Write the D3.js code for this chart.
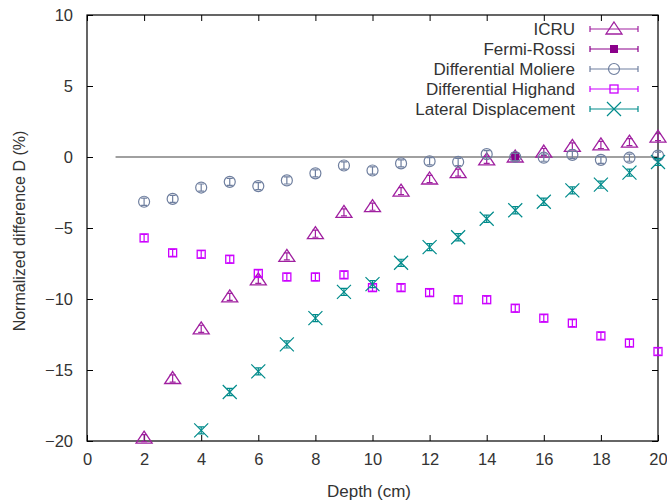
<!DOCTYPE html>
<html lang="en">

<head>
  <meta charset="utf-8">
  <title>Normalized difference D</title>
  <script src="https://d3js.org/d3.v7.min.js"></script>
  <style>
    body { margin: 0; background: #fff; }
    text { font-family: "Liberation Sans", Arial, sans-serif; fill: #333; }
  </style>
</head>

<body>
  <script>
    // depths (cm)
    var depth = [2, 3, 4, 5, 6, 7, 8, 9, 10, 11, 12, 13, 14, 15, 16, 17, 18, 19, 20];
    var icru = [-19.8, -15.6, -12.1, -9.85, -8.65, -7.0, -5.4, -3.9, -3.5, -2.4, -1.55, -1.1, -0.2, 0.0, 0.35, 0.75, 0.85, 1.05, 1.4];
    var fermiDepth = [15];
    var fermiRossi = [0.05];
    var moliere = [-3.15, -2.95, -2.15, -1.75, -2.05, -1.65, -1.15, -0.6, -0.95, -0.45, -0.3, -0.35, 0.2, 0.0, -0.05, 0.15, -0.2, -0.05, 0.1];
    var highand = [-5.7, -6.75, -6.85, -7.2, -8.2, -8.45, -8.45, -8.3, -9.2, -9.2, -9.55, -10.05, -10.05, -10.65, -11.35, -11.7, -12.6, -13.1, -13.7];
    var lateralDepth = [4, 5, 6, 7, 8, 9, 10, 11, 12, 13, 14, 15, 16, 17, 18, 19, 20];
    var lateral = [-19.25, -16.55, -15.1, -13.2, -11.35, -9.5, -8.95, -7.45, -6.35, -5.65, -4.35, -3.75, -3.15, -2.35, -1.95, -1.1, -0.35];
    var errBar = 0.25; // half height of every error bar (%)

    var xTicks = [0, 2, 4, 6, 8, 10, 12, 14, 16, 18, 20];
    var yTicks = [-20, -15, -10, -5, 0, 5, 10];

    var w = 667, h = 503;
    var margin = {top: 15, right: 9, bottom: 62, left: 87};
    var innerW = w - margin.left - margin.right,
      innerH = h - margin.top - margin.bottom;
    var fontSize = '16.5px';

    var x = d3.scaleLinear().domain([0, 20]).range([0, innerW]);
    var y = d3.scaleLinear().domain([-20, 10]).range([innerH, 0]);

    var svg = d3.select('body').append('svg')
      .attr('width', w)
      .attr('height', h);
    svg.append('rect').attr('width', w).attr('height', h).attr('fill', '#fff');
    var g = svg.append('g')
      .attr('transform', 'translate(' + [margin.left, margin.top] + ')');

    // zero reference line
    g.append('line')
      .attr('x1', x(1)).attr('x2', x(20))
      .attr('y1', y(0)).attr('y2', y(0))
      .attr('stroke', '#a0a0a0').attr('stroke-width', 2);

    // axes with inward ticks on all four sides
    function styleAxis(sel) {
      sel.select('.domain').remove();
      sel.selectAll('.tick line').attr('stroke', '#000');
      sel.selectAll('.tick text').style('font-size', fontSize)
        .style('font-family', '"Liberation Sans", Arial, sans-serif').attr('fill', '#333');
    }
    g.append('g').attr('transform', 'translate(0,' + innerH + ')')
      .call(d3.axisBottom(x).tickValues(xTicks).tickSize(-6).tickPadding(12).tickFormat(d3.format('d')))
      .call(styleAxis);
    g.append('g')
      .call(d3.axisTop(x).tickValues(xTicks).tickSize(-6).tickFormat(''))
      .call(styleAxis);
    g.append('g')
      .call(d3.axisLeft(y).tickValues(yTicks).tickSize(-6).tickPadding(14).tickFormat(d3.format('d')))
      .call(styleAxis);
    g.append('g').attr('transform', 'translate(' + innerW + ',0)')
      .call(d3.axisRight(y).tickValues(yTicks).tickSize(-6).tickFormat(''))
      .call(styleAxis);
    g.append('rect')
      .attr('width', innerW).attr('height', innerH)
      .attr('fill', 'none').attr('stroke', '#000').attr('stroke-width', 1.2);

    // axis titles
    svg.append('text')
      .attr('x', 369).attr('y', 497)
      .attr('text-anchor', 'middle').style('font-size', '17px')
      .text('Depth (cm)');
    svg.append('text')
      .attr('transform', 'translate(25,' + (margin.top + innerH / 2 + 3) + ') rotate(-90)')
      .attr('text-anchor', 'middle').style('font-size', '16px')
      .text('Normalized difference D (%)');

    var series = [
      {name: 'ICRU', xs: depth, ys: icru, color: '#a020a0', shape: 'triangle'},
      {name: 'Fermi-Rossi', xs: fermiDepth, ys: fermiRossi, color: '#8b008b', shape: 'fsquare'},
      {name: 'Differential Moliere', xs: depth, ys: moliere, color: '#6f7f9f', shape: 'circle'},
      {name: 'Differential Highand', xs: depth, ys: highand, color: '#cc00ff', shape: 'square'},
      {name: 'Lateral Displacement', xs: lateralDepth, ys: lateral, color: '#008b8b', shape: 'cross'}
    ];

    function drawMarker(sel, shape, color) {
      if (shape === 'triangle') {
        sel.append('path').attr('d', 'M0,-7L8,5L-8,5Z')
          .attr('fill', 'none').attr('stroke', color).attr('stroke-width', 1.3);
      } else if (shape === 'fsquare') {
        sel.append('rect').attr('x', -4).attr('y', -4).attr('width', 8).attr('height', 8)
          .attr('fill', color);
      } else if (shape === 'circle') {
        sel.append('circle').attr('r', 5.5)
          .attr('fill', 'none').attr('stroke', color).attr('stroke-width', 1.2);
      } else if (shape === 'square') {
        sel.append('rect').attr('x', -4).attr('y', -4).attr('width', 8).attr('height', 8)
          .attr('fill', 'none').attr('stroke', color).attr('stroke-width', 1.3);
      } else if (shape === 'cross') {
        sel.append('path').attr('d', 'M-7,-7L7,7M-7,7L7,-7')
          .attr('fill', 'none').attr('stroke', color).attr('stroke-width', 1.2);
      }
    }

    series.forEach(function (s) {
      var pts = s.xs.map(function (d, i) { return {x: d, y: s.ys[i]}; });
      var pg = g.append('g').selectAll('g')
        .data(pts)
        .enter().append('g')
        .attr('transform', function (d) { return 'translate(' + [x(d.x), y(d.y)] + ')'; });
      // error bars
      pg.append('path')
        .attr('d', function (d) {
          var t = y(d.y + errBar) - y(d.y), b = y(d.y - errBar) - y(d.y);
          return 'M0,' + t + 'L0,' + b + 'M-3,' + t + 'L3,' + t + 'M-3,' + b + 'L3,' + b;
        })
        .attr('stroke', s.color).attr('stroke-width', 1.2).attr('fill', 'none');
      pg.each(function () { drawMarker(d3.select(this), s.shape, s.color); });
    });

    // legend
    var legend = g.append('g').selectAll('g')
      .data(series)
      .enter().append('g')
      .attr('transform', function (d, i) { return 'translate(0,' + (14 + i * 20) + ')'; });
    legend.append('text')
      .attr('x', 488).attr('y', 6)
      .attr('text-anchor', 'end').style('font-size', '17px')
      .text(function (d) { return d.name; });
    legend.append('path')
      .attr('d', 'M503,0L551,0M503,-3L503,3M551,-3L551,3')
      .attr('stroke', function (d) { return d.color; }).attr('stroke-width', 1.2).attr('fill', 'none');
    legend.append('g').attr('transform', 'translate(527,0)')
      .each(function (d) { drawMarker(d3.select(this), d.shape, d.color); });
  </script>
</body>

</html>
